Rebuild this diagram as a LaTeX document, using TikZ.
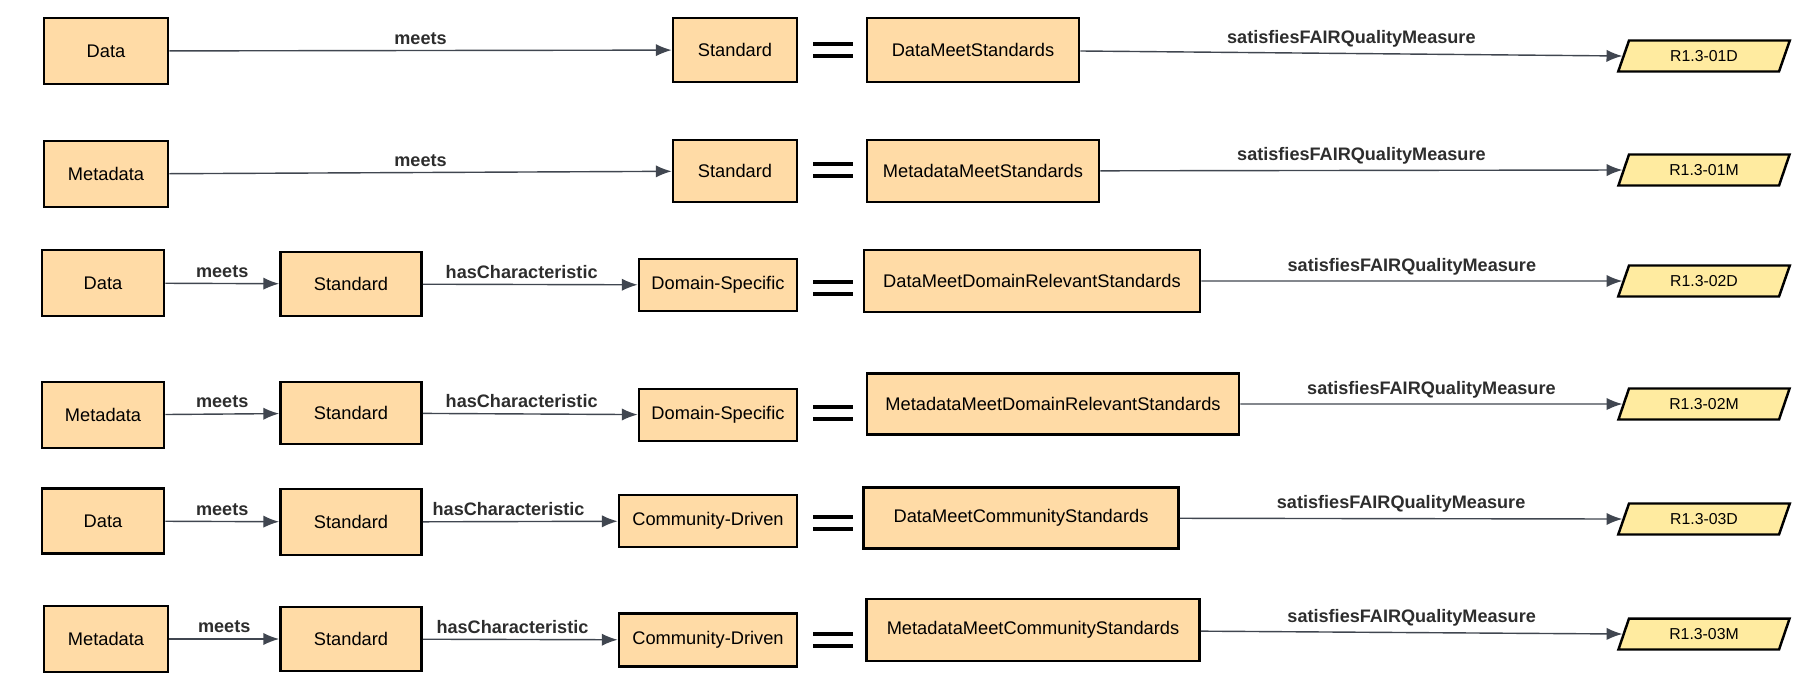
\documentclass[tikz,border=0pt]{standalone}
\usepackage{fontspec}
\setmainfont{Liberation Sans}
\usetikzlibrary{shapes.geometric,arrows.meta}
\definecolor{boxfill}{RGB}{255,219,166}
\definecolor{parafill}{RGB}{255,235,160}
\definecolor{linkgray}{RGB}{64,70,80}
\definecolor{labelgray}{RGB}{45,45,45}
\tikzset{
  concept/.style={draw=black, line width=1.6pt, fill=boxfill, inner sep=2pt,
    font=\fontsize{10.4}{12}\selectfont},
  measure/.style={trapezium, trapezium left angle=76, trapezium right angle=104,
    trapezium stretches=true, draw=black, line width=1.4pt, fill=parafill,
    minimum width=3.44cm, minimum height=0.62cm, font=\fontsize{9}{11}\selectfont},
  link/.style={->, draw=linkgray, line width=0.8pt},
  linklabel/.style={above, midway, inner sep=3pt, text=labelgray,
    font=\fontsize{10.3}{12}\selectfont\bfseries},
  eqbar/.style={line width=2.6pt},
}
\begin{document}
\begin{tikzpicture}[>={Latex[length=9pt,width=7pt]}, x=0.02cm, y=-0.02cm]
\useasboundingbox (0,0) rectangle (1814,674);
    \node[concept, minimum width=2.48cm, minimum height=1.32cm] (data1) at (106,51) {Data};
    \node[concept, minimum width=2.48cm, minimum height=1.28cm] (std1) at (735,50) {Standard};
    \node[concept, minimum width=4.24cm, minimum height=1.28cm] (dms) at (973,50) {DataMeetStandards};
    \node[measure] (r01d) at (1704,56) {R1.3-01D};
    \draw[link] (data1) -- (std1) node[linklabel]{meets};
    \draw[link] (dms) -- (r01d.west) node[linklabel]{satisfiesFAIRQualityMeasure};
    \coordinate (eq1) at (833,50);

    \node[concept, minimum width=2.48cm, minimum height=1.32cm] (meta2) at (106,174) {Metadata};
    \node[concept, minimum width=2.48cm, minimum height=1.24cm] (std2) at (735,171) {Standard};
    \node[concept, minimum width=4.64cm, minimum height=1.24cm] (mms) at (983,171) {MetadataMeetStandards};
    \node[measure] (r01m) at (1704,170) {R1.3-01M};
    \draw[link] (meta2) -- (std2) node[linklabel]{meets};
    \draw[link] (mms) -- (r01m.west) node[linklabel]{satisfiesFAIRQualityMeasure};
    \coordinate (eq2) at (833,170);

    \node[concept, minimum width=2.44cm, minimum height=1.32cm] (data3) at (103,283) {Data};
    \node[concept, minimum width=2.82cm, minimum height=1.28cm] (std3) at (351,284) {Standard};
    \node[concept, minimum width=3.16cm, minimum height=1.04cm] (dom3) at (718,285) {Domain-Specific};
    \node[concept, minimum width=6.72cm, minimum height=1.24cm] (dmdrs) at (1032,281) {DataMeetDomainRelevantStandards};
    \node[measure] (r02d) at (1704,281) {R1.3-02D};
    \draw[link] (data3) -- (std3) node[linklabel]{meets};
    \draw[link] (std3) -- (dom3) node[linklabel, pos=0.46]{hasCharacteristic};
    \draw[link] (dmdrs) -- (r02d.west) node[linklabel]{satisfiesFAIRQualityMeasure};
    \coordinate (eq3) at (833,288);

    \node[concept, minimum width=2.44cm, minimum height=1.32cm] (meta4) at (103,415) {Metadata};
    \node[concept, minimum width=2.82cm, minimum height=1.24cm] (std4) at (351,413) {Standard};
    \node[concept, minimum width=3.16cm, minimum height=1.04cm] (dom4) at (718,415) {Domain-Specific};
    \node[concept, minimum width=7.44cm, minimum height=1.22cm] (mmdrs) at (1053,404) {MetadataMeetDomainRelevantStandards};
    \node[measure] (r02m) at (1704,404) {R1.3-02M};
    \draw[link] (meta4) -- (std4) node[linklabel]{meets};
    \draw[link] (std4) -- (dom4) node[linklabel, pos=0.46]{hasCharacteristic};
    \draw[link] (mmdrs) -- (r02m.west) node[linklabel]{satisfiesFAIRQualityMeasure};
    \coordinate (eq4) at (833,413);

    \node[concept, minimum width=2.44cm, minimum height=1.30cm] (data5) at (103,521) {Data};
    \node[concept, minimum width=2.82cm, minimum height=1.32cm] (std5) at (351,522) {Standard};
    \node[concept, minimum width=3.56cm, minimum height=1.04cm] (com5) at (708,521) {Community-Driven};
    \node[concept, minimum width=6.30cm, minimum height=1.22cm] (dmcs) at (1021,518) {DataMeetCommunityStandards};
    \node[measure] (r03d) at (1704,519) {R1.3-03D};
    \draw[link] (data5) -- (std5) node[linklabel]{meets};
    \draw[link] (std5) -- (com5) node[linklabel, pos=0.44]{hasCharacteristic};
    \draw[link] (dmcs) -- (r03d.west) node[linklabel]{satisfiesFAIRQualityMeasure};
    \coordinate (eq5) at (833,523);

    \node[concept, minimum width=2.48cm, minimum height=1.32cm] (meta6) at (106,639) {Metadata};
    \node[concept, minimum width=2.82cm, minimum height=1.28cm] (std6) at (351,639) {Standard};
    \node[concept, minimum width=3.56cm, minimum height=1.06cm] (com6) at (708,640) {Community-Driven};
    \node[concept, minimum width=6.66cm, minimum height=1.24cm] (mmcs) at (1033,630) {MetadataMeetCommunityStandards};
    \node[measure] (r03m) at (1704,634) {R1.3-03M};
    \draw[link] (meta6) -- (std6) node[linklabel]{meets};
    \draw[link] (std6) -- (com6) node[linklabel, pos=0.46]{hasCharacteristic};
    \draw[link] (mmcs) -- (r03m.west) node[linklabel]{satisfiesFAIRQualityMeasure};
    \coordinate (eq6) at (833,640);

    \foreach \e in {eq1,eq2,eq3,eq4,eq5,eq6}
        \draw[eqbar] (\e) ++(-20,-6) -- ++(40,0) (\e) ++(-20,6) -- ++(40,0);
\end{tikzpicture}
\end{document}
